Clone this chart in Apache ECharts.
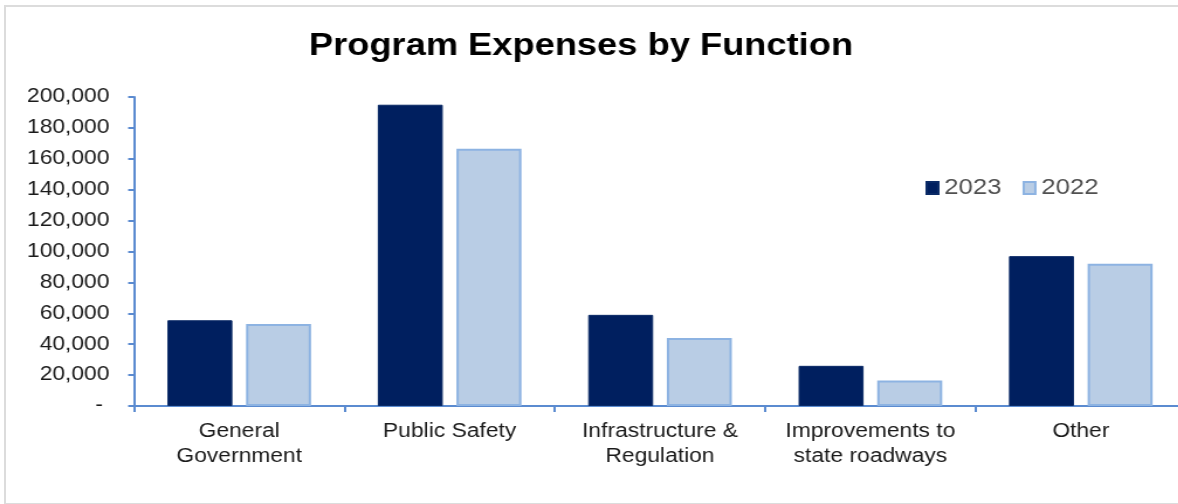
<!DOCTYPE html>
<html>
<head>
<meta charset="utf-8">
<script src="https://cdn.jsdelivr.net/npm/echarts@6/dist/echarts.min.js"></script>
<style>
  html, body { margin: 0; padding: 0; background: #fff; overflow: hidden; }
  body { width: 1178px; height: 504px; position: relative; }
  #frame {
    position: absolute; left: 4px; top: 5px; width: 1300px; height: 496px;
    border: 2px solid #dcdcdc; border-right: none;
  }
  #chart {
    position: absolute; left: 0; top: 0; height: 504px;
    transform-origin: 0 0;
  }
</style>
</head>
<body>
<div id="frame"></div>
<div id="chart"></div>
<script>
// Program expenses by function, fiscal 2023 vs 2022
const categories = [
  'General\nGovernment',
  'Public Safety',
  'Infrastructure &\nRegulation',
  'Improvements to\nstate roadways',
  'Other'
];
const expenses2023 = [55500, 195000, 59000, 26000, 97000];
const expenses2022 = [53000, 166500, 44000, 16500, 92000];
const seriesNames = ['2023', '2022'];
const yMin = 0;
const yMax = 200000;
const yStep = 20000;

// the chart is laid out in a narrower box and widened horizontally;
// the plot runs a little past the right edge of the page
const STRETCH = 1.17;
const el = document.getElementById('chart');
const innerW = 1210 / STRETCH;
el.style.width = innerW + 'px';
el.style.transform = 'scaleX(' + STRETCH + ')';

const font = '"Liberation Sans", Arial, sans-serif';
const axisBlue = '#5b8bd0';

const chart = echarts.init(el, null, { renderer: 'canvas' });
chart.setOption({
  animation: false,
  textStyle: { fontFamily: font },
  title: {
    text: 'Program Expenses by Function',
    left: 259,
    top: 26,
    textStyle: { fontFamily: font, fontSize: 31, fontWeight: 'bold', color: '#000' }
  },
  legend: {
    data: seriesNames,
    left: 786,
    top: 172,
    itemWidth: 10,
    itemHeight: 12,
    itemGap: 18,
    icon: 'rect',
    textStyle: { fontFamily: font, fontSize: 22, color: '#505050' }
  },
  grid: {
    left: 134 / STRETCH,
    top: 97,
    width: 1052 / STRETCH,
    height: 309,
    containLabel: false
  },
  xAxis: {
    type: 'category',
    data: categories,
    axisLine: { lineStyle: { color: axisBlue, width: 2 } },
    axisTick: { show: true, length: 6, alignWithLabel: false, lineStyle: { color: axisBlue, width: 2 } },
    axisLabel: {
      margin: 13,
      interval: 0,
      fontFamily: font,
      fontSize: 19.5,
      lineHeight: 25,
      color: '#1a1a1a'
    },
    splitLine: { show: false }
  },
  yAxis: {
    type: 'value',
    min: yMin,
    max: yMax,
    interval: yStep,
    axisLine: { show: true, lineStyle: { color: axisBlue, width: 2 } },
    axisTick: { show: true, length: 5, lineStyle: { color: axisBlue, width: 2 } },
    axisLabel: {
      margin: 21,
      fontFamily: font,
      fontSize: 19.5,
      color: '#1a1a1a',
      formatter: v => (v === 0 ? '- ' : v.toLocaleString('en-US'))
    },
    splitLine: { show: false }
  },
  series: [
    {
      name: seriesNames[0],
      type: 'bar',
      data: expenses2023,
      barWidth: 65 / STRETCH,
      barGap: '21%',
      itemStyle: { color: '#001f5f', borderColor: '#0a2a66', borderWidth: 1 }
    },
    {
      name: seriesNames[1],
      type: 'bar',
      data: expenses2022,
      barWidth: 65 / STRETCH,
      itemStyle: { color: '#b9cde5', borderColor: '#8db3e2', borderWidth: 2 }
    }
  ]
});
</script>
</body>
</html>
